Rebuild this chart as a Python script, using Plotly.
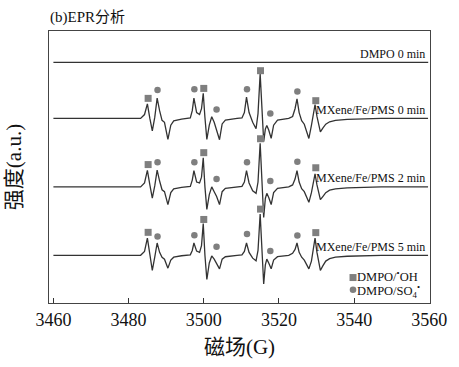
import plotly.graph_objects as go

# ---------------- data ----------------
FIELD_DMPO = [3460.0, 3559.7]
INT_DMPO = [0, 0]

FIELD_G = [3460.0, 3483.2, 3484.24, 3485.0, 3485.66, 3486.31, 3486.96, 3487.6, 3488.25, 3488.9,
           3489.55, 3490.46, 3491.23, 3492.01, 3494.09, 3496.42, 3496.94, 3497.38, 3498.1, 3498.88,
           3499.4, 3499.86, 3500.31, 3500.82, 3501.47, 3502.12, 3502.77, 3503.42, 3504.19, 3504.89,
           3505.75, 3508.86, 3510.16, 3510.8, 3511.37, 3512.05, 3513.01, 3513.91, 3514.43, 3515.0,
           3515.42, 3515.94, 3516.38, 3516.77, 3517.28, 3517.93, 3518.58, 3519.62, 3522.6, 3523.63,
           3524.28, 3524.8, 3525.37, 3526.04, 3526.74, 3527.96, 3528.64, 3529.21, 3529.6, 3530.11,
           3531.02, 3531.67, 3532.45, 3533.48, 3535.04, 3538.15, 3542.04, 3547.22, 3559.66]

INT_0MIN = [0, 0, 4, 15, 0, -13, 1, 21, 8, -2,
            -4, -21.7, -7, -2.5, -0.7, 0.5, 8, 21, 6, 4,
            10, 26, 1, -21.7, -7, 1.7, -4, -12, -22, -5.7,
            -1.7, 0, 0.5, 6, 22, 6, -4, -10.7, 5, 46,
            8, -24, -11, -7.3, -12, -20.7, -7, -1.7, 0, 2,
            10, 20.3, 6, -2.3, -6, -20.7, -7.3, 8, 14.3, 2,
            -14, -10, -6, -3.5, -2, -1, -0.5, 0, 0]

INT_2MIN = [0, 0, 4, 17, 2, -11.7, 1, 17.3, 6, -3,
            -5, -18.3, -6, -2, -0.5, 0.5, 7, 16.7, 5, 4,
            10, 30, 0, -23.3, -8, 0, -5, -10, -18.3, -5,
            -1.5, 0, 0.5, 5, 16.7, 4, -4, -6.7, 5, 45,
            8, -31.7, -12, -6.7, -11, -18.3, -6, -1.5, 0, 2,
            8, 16.7, 5, -2, -5, -16, -6, 7, 13.3, 2,
            -13.3, -10, -6, -3.5, -2, -1, -0.5, 0, 0]

INT_5MIN = [0, 0, 4, 17.7, 1, -15.7, -2, 12.7, 3, -2,
            -4, -13.3, -5, -2, -0.5, 0.5, 5, 12.7, 4.3, 3,
            10, 32.7, 0, -25, -8, -0.7, -4, -8, -14, -4,
            -1.5, 0, 0.5, 4, 12.7, 3, -3, -5.7, 5, 42.7,
            8, -29.7, -10, -4, -8, -14, -5, -1.5, 0, 2,
            6, 12.7, 3, -2, -5, -14, -6, 10, 17.7, 3,
            -15.7, -11, -6, -3.5, -2, -1, -0.5, 0, 0]

# marker positions (DMPO/.OH squares, DMPO/SO4.- circles)
SQ_FIELD = [3485.2, 3500.0, 3515.1, 3529.8]
CI_FIELD = [3487.7, 3497.5, 3503.4, 3511.5, 3517.7, 3524.9]
SQ_0MIN = [20.7, 31, 49.3, 18.3]
SQ_2MIN = [23, 35.3, 49.7, 19.7]
SQ_5MIN = [23.7, 37, 47.7, 23.4]
CI_0MIN = [29.3, 30, 9.3, 30, 5, 27.7]
CI_2MIN = [25.3, 25.3, 8, 25.3, 6, 26]
CI_5MIN = [19.4, 20.7, 8.7, 22, 4.4, 20.4]

LABELS = ["DMPO 0 min", "MXene/Fe/PMS 0 min", "MXene/Fe/PMS 2 min", "MXene/Fe/PMS 5 min"]
X_TICKS = [3460, 3480, 3500, 3520, 3540, 3560]

# ---------------- layout constants ----------------
OFFSETS = [248.5, 190.7, 120.0, 49.3]
LINE_COLOR = "#333333"
MARK_COLOR = "#7f7f7f"
SERIF = "Liberation Serif"
FONT = "Liberation Serif, Noto Sans CJK SC"

fig = go.Figure()

spectra = [
    (FIELD_DMPO, INT_DMPO, None, None),
    (FIELD_G, INT_0MIN, SQ_0MIN, CI_0MIN),
    (FIELD_G, INT_2MIN, SQ_2MIN, CI_2MIN),
    (FIELD_G, INT_5MIN, SQ_5MIN, CI_5MIN),
]

for (fx, iy, sq, ci), off, lab in zip(spectra, OFFSETS, LABELS):
    fig.add_trace(go.Scatter(
        x=fx, y=[v + off for v in iy], mode="lines",
        line=dict(color=LINE_COLOR, width=1.3), showlegend=False, name=lab,
        hoverinfo="skip"))
    if sq is not None:
        fig.add_trace(go.Scatter(
            x=SQ_FIELD, y=[v + off for v in sq], mode="markers",
            marker=dict(symbol="square", size=7, color=MARK_COLOR),
            showlegend=False, hoverinfo="skip"))
        fig.add_trace(go.Scatter(
            x=CI_FIELD, y=[v + off for v in ci], mode="markers",
            marker=dict(symbol="circle", size=6.5, color=MARK_COLOR),
            showlegend=False, hoverinfo="skip"))
    fig.add_annotation(x=3559.3, y=off + 9, text=lab, showarrow=False,
                       xanchor="right", yanchor="middle",
                       font=dict(family=SERIF, size=12, color="#111111"))

# legend (custom, compact)
W, H, L, B = 391, 281, 49, 55
fig.add_shape(type="rect", xref="paper", yref="paper", xsizemode="pixel", ysizemode="pixel",
              xanchor=(361 - L) / W, yanchor=(312 - 285.7) / H,
              x0=-3.5, x1=3.5, y0=-3.5, y1=3.5, fillcolor=MARK_COLOR, line=dict(width=0))
fig.add_shape(type="circle", xref="paper", yref="paper", xsizemode="pixel", ysizemode="pixel",
              xanchor=(361 - L) / W, yanchor=(312 - 298.3) / H,
              x0=-3.3, x1=3.3, y0=-3.3, y1=3.3, fillcolor=MARK_COLOR, line=dict(width=0))
fig.add_annotation(xref="paper", yref="paper", x=(364 - L) / W, y=(312 - 284.5) / H,
                   text="DMPO/<sup>•</sup>OH", showarrow=False, xanchor="left", yanchor="middle",
                   borderpad=0,
                   font=dict(family=SERIF, size=12.5, color="#111111"))
fig.add_annotation(xref="paper", yref="paper", x=(364 - L) / W, y=(312 - 299.5) / H,
                   text="DMPO/SO<sub>4</sub><sup>•</sup>", showarrow=False, xanchor="left", yanchor="middle",
                   borderpad=0,
                   font=dict(family=SERIF, size=12.5, color="#111111"))

fig.update_layout(
    width=459, height=367,
    margin=dict(l=L, r=19, t=31, b=B, pad=0),
    paper_bgcolor="white", plot_bgcolor="white",
    font=dict(family=FONT, color="#111111"),
    showlegend=False,
)
fig.add_annotation(xref="paper", yref="paper", x=0, y=1 + 13.5 / H, text="(b)EPR分析",
                   showarrow=False, xanchor="left", yanchor="middle", borderpad=0,
                   font=dict(family=FONT, size=15, color="#111111"))
fig.update_xaxes(
    range=[3458.83, 3560.18], tickvals=X_TICKS, ticktext=[str(t) for t in X_TICKS],
    ticks="inside", ticklen=5, tickwidth=1, tickcolor="#333333",
    showline=True, linecolor="#444444", linewidth=1.3, mirror=True,
    showgrid=False, zeroline=False,
    tickfont=dict(family=SERIF, size=18, color="#111111"),
    title=dict(text="磁场(G)", standoff=10, font=dict(family=FONT, size=21, color="#111111")),
)
fig.update_yaxes(
    range=[0, 281], showticklabels=False, ticks="",
    showline=True, linecolor="#444444", linewidth=1.3, mirror=True,
    showgrid=False, zeroline=False,
    title=dict(text="强度(a.u.)", standoff=20, font=dict(family=FONT, size=21, color="#111111")),
)

fig.write_html(
    "out.html",
    config={"displayModeBar": False, "staticPlot": True},
    post_script="document.body.style.margin='0';document.body.style.overflow='hidden';",
)
